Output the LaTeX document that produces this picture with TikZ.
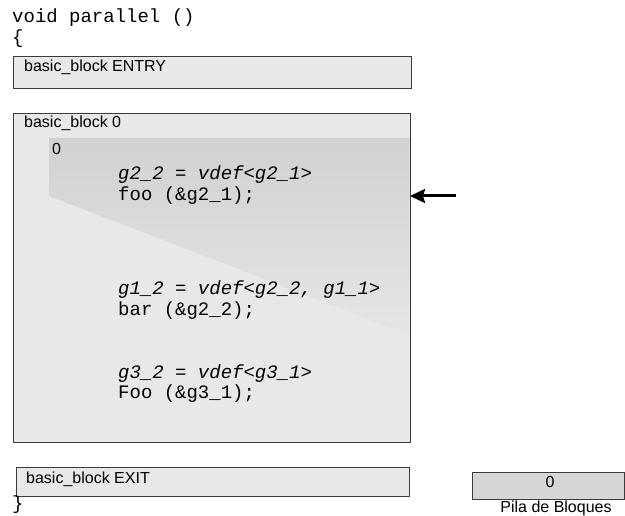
\documentclass[tikz,border=0pt]{standalone}
\usepackage{fontspec}
\setmainfont{Liberation Sans}
\setmonofont{Liberation Mono}
\usetikzlibrary{arrows.meta}

\definecolor{blockfill}{HTML}{E8E8E8}
\definecolor{blockline}{HTML}{3C3C3C}
\definecolor{stackfill}{HTML}{D6D6D6}

\begin{document}
\begin{tikzpicture}
    [%%%%%%%%%%%%%%%%%%%%%%%%%%%%%%
        x=1pt, y=-1pt,
        bblock/.style={rectangle,draw=blockline,line width=1pt,fill=blockfill,anchor=north west,inner sep=0pt,outer sep=0pt},
        sans/.style={anchor=base west,inner sep=0pt,font=\fontsize{16}{18}\selectfont},
        code/.style={anchor=base west,inner sep=0pt,font=\fontsize{19}{20}\selectfont\ttfamily},
        vdef/.style={anchor=base west,inner sep=0pt,font=\fontsize{19}{20}\selectfont\ttfamily\itshape},
        ptrarrow/.style={-{Stealth[length=15pt,width=14pt,inset=2pt]},line width=3pt,black},
    ]%%%%%%%%%%%%%%%%%%%%%%%%%%%%%%

\useasboundingbox (0,0) rectangle (625,516);

% function header
\node[code] (head) at (12,23) {void parallel ()};
\node[code] (open) at (12,44) {\{};

% entry block
\node[bblock, minimum width=398pt, minimum height=32pt] (entry) at (13,57) {};
\node[sans] (entrytxt) at (24,72) {basic\_block ENTRY};

% block 0 with its shaded region
\node[bblock, minimum width=397pt, minimum height=328pt] (blk0) at (13,114) {};
\shade[top color=black!18, bottom color=black!10]
    (49,138) -- (409.5,138) -- (409.5,335) -- (49,196) -- cycle;
\node[sans] (blk0txt) at (24,128) {basic\_block 0};
\node[sans] (lvl) at (52,155) {0};

\node[vdef] (def1) at (118,180) {g2\_2 = vdef<g2\_1>};
\node[code] (call1) at (118,201) {foo (\&g2\_1);};

\node[vdef] (def2) at (118,295) {g1\_2 = vdef<g2\_2, g1\_1>};
\node[code] (call2) at (118,316) {bar (\&g2\_2);};

\node[vdef] (def3) at (118,379) {g3\_2 = vdef<g3\_1>};
\node[code] (call3) at (118,399) {Foo (\&g3\_1);};

% current position
\coordinate (ptr) at (456,196);
\draw[ptrarrow] (ptr) -- (ptr -| blk0.east);

% exit block
\node[bblock, minimum width=393pt, minimum height=29pt] (exit) at (16,467) {};
\node[sans] (exittxt) at (26,483) {basic\_block EXIT};
\node[code] (close) at (12,509) {\}};

% block stack
\node[bblock, fill=stackfill, minimum width=152pt, minimum height=27pt] (stack) at (472,472) {};
\node[sans, anchor=base] (top) at (550,487) {0};
\node[sans, anchor=base] (stacktxt) at (556,512) {Pila de Bloques};
\end{tikzpicture}
\end{document}
